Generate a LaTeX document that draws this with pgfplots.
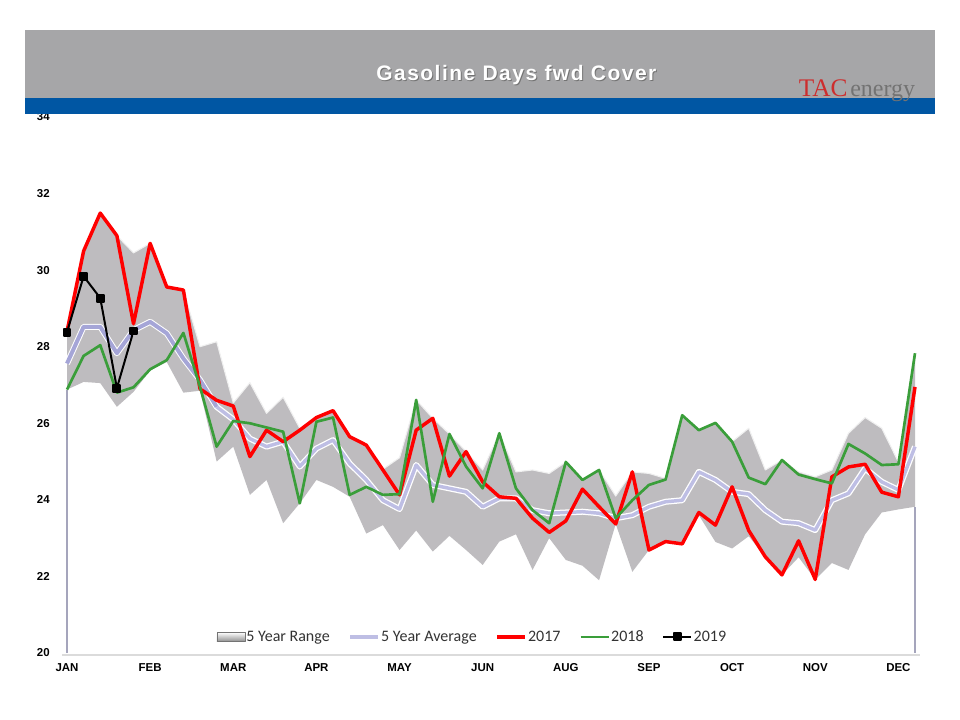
\documentclass[border=0pt]{standalone}
\usepackage{fontspec}
\setmainfont{Liberation Sans}
\newfontfamily\legfont{Carlito}
\newfontfamily\logofont{Liberation Serif}
\newfontfamily\titlefont{Liberation Sans}[LetterSpace=7]
\usepackage{pgfplots}
\pgfplotsset{compat=1.18}
\usepackage{pgfplotstable}
\usepgfplotslibrary{fillbetween}

\definecolor{rangegray}{RGB}{190,188,191}
\definecolor{avgline}{RGB}{190,190,228}
\definecolor{avgdark}{RGB}{165,165,215}
\definecolor{red17}{RGB}{255,0,0}
\definecolor{green18}{RGB}{58,158,58}
\definecolor{bandgray}{RGB}{166,166,168}
\definecolor{bandblue}{RGB}{0,86,163}
\definecolor{tacred}{RGB}{205,45,45}

% week index, 5yr max, 5yr min, 5yr avg, 2017, 2018
\pgfplotstableread{
i  up     lo     avg    r17    g18
0  28.40  26.88  27.56  28.40  26.88
1  30.50  27.08  28.52  30.50  27.76
2  31.50  27.05  28.52  31.49  28.04
3  30.90  26.43  27.83  30.90  26.80
4  30.45  26.82  28.43  28.60  26.94
5  30.70  27.38  28.65  30.70  27.41
6  29.56  27.60  28.35  29.56  27.65
7  29.48  26.80  27.69  29.48  28.36
8  28.00  26.85  27.13  26.90  26.95
9  28.13  25.00  26.43  26.60  25.39
10 26.53  25.39  26.10  26.45  26.06
11 27.06  24.13  25.60  25.13  26.00
12 26.26  24.52  25.39  25.82  25.89
13 26.68  23.39  25.52  25.52  25.78
14 25.87  23.91  24.87  25.82  23.91
15 26.15  24.52  25.34  26.15  26.04
16 26.33  24.34  25.56  26.33  26.15
17 25.65  24.08  24.95  25.65  24.13
18 25.43  23.12  24.52  25.43  24.34
19 24.80  23.34  23.99  24.78  24.13
20 25.10  22.69  23.76  24.13  24.15
21 26.61  23.20  24.91  25.82  26.61
22 26.13  22.65  24.39  26.13  23.95
23 25.72  23.06  24.30  24.62  25.72
24 25.26  22.69  24.21  25.26  24.87
25 24.78  22.30  23.82  24.47  24.30
26 25.74  22.91  24.04  24.08  25.74
27 24.73  23.10  24.04  24.04  24.30
28 24.78  22.17  23.73  23.52  23.73
29 24.69  23.00  23.65  23.15  23.39
30 24.99  22.43  23.67  23.45  24.99
31 24.52  22.28  23.69  24.28  24.52
32 24.78  21.90  23.65  23.82  24.78
33 24.10  23.37  23.52  23.37  23.52
34 24.73  22.12  23.60  24.73  23.99
35 24.69  22.69  23.82  22.69  24.39
36 24.56  22.91  23.95  22.91  24.53
37 26.21  22.85  23.99  22.85  26.21
38 25.82  23.60  24.73  23.67  25.82
39 26.01  22.90  24.52  23.34  26.01
40 25.52  22.73  24.21  24.34  25.52
41 25.87  23.05  24.15  23.20  24.58
42 24.78  22.51  23.73  22.51  24.41
43 25.04  22.04  23.43  22.04  25.04
44 24.73  22.50  23.39  22.93  24.66
45 24.60  21.92  23.21  21.92  24.54
46 24.78  22.35  23.99  24.60  24.43
47 25.74  22.17  24.17  24.86  25.46
48 26.15  23.10  24.82  24.93  25.21
49 25.87  23.67  24.47  24.20  24.91
50 24.99  23.75  24.26  24.08  24.93
51 27.83  23.82  25.39  26.95  27.83
}\weekly

\begin{document}
\begin{tikzpicture}[x=1pt,y=1pt]
\fill[white] (0,0) rectangle (720,540);
\begin{axis}[
  at={(50.25pt,50.25pt)}, anchor=south west,
  scale only axis, width=636pt, height=402pt,
  xmin=0, xmax=51, ymin=20, ymax=34,
  clip=false,
  axis line style={draw=none},
  major tick length=0pt,
  tick style={draw=none},
  xtick={0,5,...,50},
  xticklabels={JAN,FEB,MAR,APR,MAY,JUN,AUG,SEP,OCT,NOV,DEC},
  ytick={20,22,...,34},
  yticklabels={20,22,24,26,28,30,32,34},
  tick label style={font=\bfseries\fontsize{8.6}{10}\selectfont, inner sep=0pt},
  xticklabel style={anchor=north, yshift=-7.5pt},
  yticklabel style={anchor=east, xshift=-12.75pt},
  legend columns=-1,
  legend style={at={(axis description cs:0.4776,0.0299)}, anchor=center,
    draw=none, fill=none, inner sep=0pt,
    font=\legfont\fontsize{12}{14}\selectfont, text=black!80,
    /tikz/every even column/.append style={column sep=13pt},
    nodes={inner sep=1pt}},
  legend image code/.code={\draw[mark repeat=2,mark phase=2]
    plot coordinates {(0pt,0pt) (10.5pt,0pt) (21pt,0pt)};},
  every axis plot/.append style={line join=round},
]
\addplot[name path=up, draw=none, forget plot] table[x=i,y=up]{\weekly};
\addplot[name path=lo, draw=none, forget plot] table[x=i,y=lo]{\weekly};
\addplot[fill=rangegray, draw=none,
  legend image code/.code={\draw[draw=black!55, top color=white, bottom color=black!45]
    (0pt,-3.5pt) rectangle (21pt,3.5pt);}] fill between[of=up and lo, on layer=main];
\addplot[black!6, line width=0.8pt, forget plot] table[x=i,y=up]{\weekly};
\addplot[avgline!60!gray, line width=1.1pt, forget plot] coordinates {(0,20) (0,26.88)};
\addplot[avgline!60!gray, line width=1.1pt, forget plot] coordinates {(51,20) (51,23.82)};
\addplot[black!14, line width=1.2pt, forget plot] coordinates {(-0.3,19.95) (51.3,19.95)};

\addplot[white, line width=4.5pt, forget plot] table[x=i,y=avg]{\weekly};
\addplot[avgdark, line width=3pt, forget plot, restrict x to domain=0:9] table[x=i,y=avg]{\weekly};
\addplot[avgline, line width=2.6pt, restrict x to domain=9:51] table[x=i,y=avg]{\weekly};
\addplot[red17, line width=2.6pt] table[x=i,y=r17]{\weekly};
\addplot[green18, line width=2pt] table[x=i,y=g18]{\weekly};
\addplot[black, line width=1.5pt, mark=square*, mark size=2.6pt]
  coordinates {(0,28.38) (1,29.84) (2,29.27) (3,26.92) (4,28.41)};
\legend{5 Year Range, 5 Year Average, 2017, 2018, 2019}
\end{axis}

% header bands
\fill[bandgray] (18.75,466.5) rectangle (701.25,517.5);
\fill[bandblue] (18.75,454.5) rectangle (701.25,466.5);
\node[anchor=base, inner sep=0, text=black!55, font=\titlefont\bfseries\fontsize{15.75}{18}\selectfont]
  at (388,478.5) {Gasoline Days fwd Cover};
\node[anchor=base, inner sep=0, text=white, font=\titlefont\bfseries\fontsize{15.75}{18}\selectfont]
  at (387.25,479.25) {Gasoline Days fwd Cover};
\node[anchor=base west, inner sep=0, text=tacred, font=\logofont\fontsize{19}{20}\selectfont]
  at (599,467.25) {TAC};
\node[anchor=base west, inner sep=0, text=black!55, font=\logofont\fontsize{18}{20}\selectfont]
  at (637.5,467.25) {energy};
\pgfresetboundingbox
\path[use as bounding box] (0,0) rectangle (720,540);
\end{tikzpicture}
\end{document}
